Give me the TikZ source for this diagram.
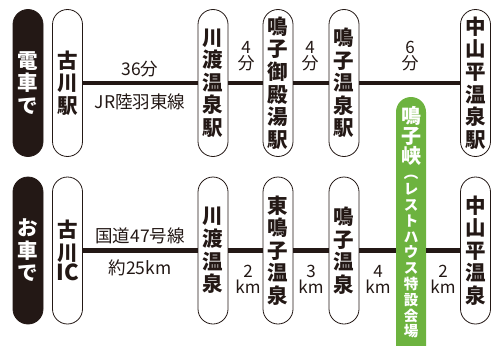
\documentclass[tikz,border=0pt]{standalone}
\usepackage{fontspec}
\newfontfamily\jp{Noto Sans CJK JP}
\definecolor{ink}{HTML}{231815}
\definecolor{leaf}{HTML}{6DB33F}
\tikzset{
  pill/.style={draw=ink, line width=0.8pt, fill=white, rounded corners=15pt,
    minimum width=30pt, minimum height=147pt, inner sep=0pt, text=ink,
    align=center, font=\jp\bfseries\fontsize{20.5}{22.6}\selectfont},
  darkpill/.style={pill, fill=ink, text=white},
  greenpill/.style={fill=leaf, rounded corners=15pt, minimum width=30pt, inner sep=0pt},
  greentext/.style={text=white, inner sep=0pt, align=center},
  route/.style={draw=ink, line width=4.5pt},
  lbl/.style={text=ink, font=\jp\fontsize{17.5}{19}\selectfont, inner sep=0pt, align=center},
  vlbl/.style={text=ink, font=\jp\fontsize{17}{18}\selectfont, inner sep=0pt, align=center},
}
\begin{document}
\begin{tikzpicture}[x=1pt,y=-1pt]
\path[use as bounding box] (0,0) rectangle (502,345);
\clip (0,0) rectangle (502,345);
% top row (train)
\node[darkpill] (train) at (28,83) {電\\車\\で};
\node[pill] (t1) at (67.5,83) {古\\川\\駅};
\node[pill] (t2) at (213,83) {川\\渡\\温\\泉\\駅};
\node[pill] (t3) at (278,83) {鳴\\子\\御\\殿\\湯\\駅};
\node[pill] (t4) at (344,83) {鳴\\子\\温\\泉\\駅};
\node[pill] (t5) at (475.5,83) {中\\山\\平\\温\\泉\\駅};
\draw[route] (t1.east) -- (t2.west);
\draw[route] (t2.east) -- (t3.west);
\draw[route] (t3.east) -- (t4.west);
\draw[route] (t4.east) -- (t5.west);
\node[lbl] (tl1) at (140,69) {36分};
\node[lbl] (tl2) at (140,102) {JR陸羽東線};
\node[vlbl] (tl3) at (246,56) {4\\[-2pt]分};
\node[vlbl] (tl4) at (310,56) {4\\[-2pt]分};
\node[vlbl] (tl5) at (410,56) {6\\[-2pt]分};
% green venue pill
\node[greenpill, minimum height=280pt] (venue) at (411,237) {};
\node[greentext, font=\jp\bfseries\fontsize{20}{20}\selectfont] (vn1) at (411,136) {鳴\\子\\峡};
\node[greentext, font=\jp\bfseries\fontsize{14.5}{15.8}\selectfont] (vn2) at (411,257) {︵\\レ\\ス\\ト\\ハ\\ウ\\ス\\特\\設\\会\\場};
% bottom row (car)
\node[darkpill] (car) at (28,250.5) {お\\車\\で};
\node[pill] (b1) at (67.5,250.5) {古\\川\\[-2pt]{\fontsize{22}{22}\selectfont IC}};
\node[pill] (b2) at (213,250.5) {川\\渡\\温\\泉};
\node[pill] (b3) at (278,250.5) {東\\鳴\\子\\温\\泉};
\node[pill] (b4) at (344,250.5) {鳴\\子\\温\\泉};
\node[pill] (b5) at (475.5,250.5) {中\\山\\平\\温\\泉};
\draw[route] (b1.east) -- (b2.west);
\draw[route] (b2.east) -- (b3.west);
\draw[route] (b3.east) -- (b4.west);
\draw[route] (b4.east) -- (b4.east -| venue.west);
\draw[route] (b5.west -| venue.east) -- (b5.west);
\node[lbl] (bl1) at (140,236) {国道47号線};
\node[lbl] (bl2) at (140,268) {約25km};
\node[vlbl] (bl3) at (248,279) {2\\[-2pt]km};
\node[vlbl] (bl4) at (311,279) {3\\[-2pt]km};
\node[vlbl] (bl5) at (378,279) {4\\[-2pt]km};
\node[vlbl] (bl6) at (443,279) {2\\[-2pt]km};
\end{tikzpicture}
\end{document}
